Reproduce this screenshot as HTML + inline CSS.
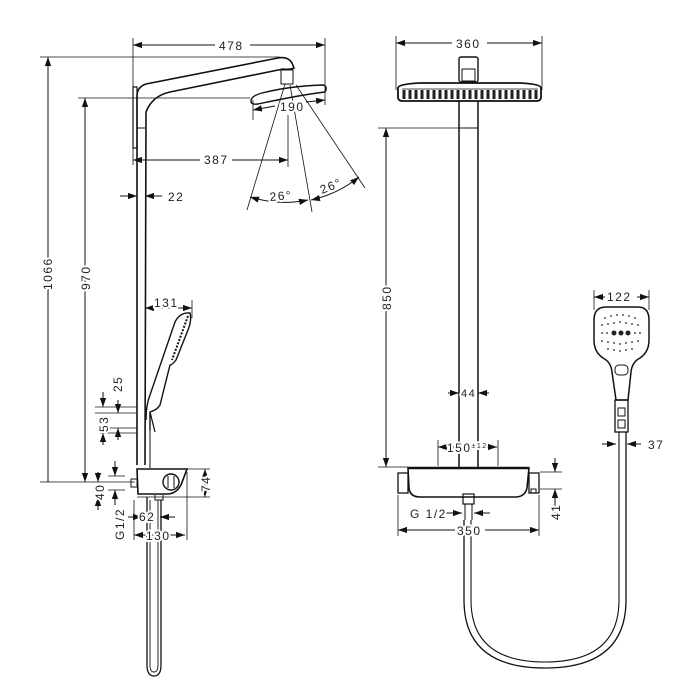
<!DOCTYPE html>
<html><head><style>body{margin:0;background:#fff}svg{display:block}text{font-family:"Liberation Sans",sans-serif;font-size:12px;fill:#222;letter-spacing:1.5px;stroke:#fff;stroke-width:4px;paint-order:stroke;stroke-linejoin:round}</style></head>
<body>
<svg width="700" height="700" viewBox="0 0 700 700" xmlns="http://www.w3.org/2000/svg">
<defs>
<marker id="a" viewBox="0 0 10 10" refX="10" refY="5" markerWidth="9" markerHeight="9" orient="auto-start-reverse"><path d="M0,1.5L10,5L0,8.5Z" fill="#111"/></marker>
</defs>
<g fill="none" stroke="#111" stroke-width="1">
<line x1="40" y1="57" x2="280" y2="57" stroke-width="0.8"/>
<line x1="78" y1="98" x2="250" y2="98" stroke-width="0.8"/>
<line x1="133" y1="38" x2="133" y2="165" stroke-width="0.8"/>
<line x1="325" y1="38" x2="325" y2="105" stroke-width="0.8"/>
<line x1="288" y1="115" x2="288" y2="167" stroke-width="0.8"/>
<line x1="40" y1="482" x2="135" y2="482" stroke-width="0.8"/>
<line x1="133" y1="45" x2="215" y2="45" marker-start="url(#a)"/>
<line x1="250" y1="45" x2="325" y2="45" marker-end="url(#a)"/>
<line x1="48" y1="57" x2="48" y2="482" marker-start="url(#a)"/>
<line x1="85" y1="98" x2="85" y2="482" marker-start="url(#a)" marker-end="url(#a)"/>
<line x1="133" y1="160" x2="200" y2="160" marker-start="url(#a)"/>
<line x1="232" y1="160" x2="288" y2="160" marker-end="url(#a)"/>
<line x1="120" y1="196" x2="137" y2="196" marker-end="url(#a)"/>
<line x1="162" y1="196" x2="145" y2="196" marker-end="url(#a)"/>
<line x1="253" y1="110" x2="275" y2="106" marker-start="url(#a)"/>
<line x1="306" y1="102" x2="325" y2="100" marker-end="url(#a)"/>
<line x1="253" y1="100" x2="253" y2="120" stroke-width="0.8"/>
<line x1="285" y1="84" x2="247" y2="210" stroke-width="0.8"/>
<line x1="290" y1="85" x2="312" y2="212" stroke-width="0.8"/>
<line x1="296" y1="85" x2="365" y2="188" stroke-width="0.8"/>
<path d="M250,197 Q280,206 308,200" marker-start="url(#a)" marker-end="url(#a)"/>
<path d="M311,200 Q338,194 359,177" marker-start="url(#a)" marker-end="url(#a)"/>
<path d="M137,465 L137,96 Q137,87 146,84 L278,58 Q288,56 292,63 L294,68 Q290,70 283,69 L170,92 Q152,96 146,112 L145,465" stroke-width="1.6"/>
<line x1="137" y1="128" x2="145" y2="128"/>
<rect x="133" y="87" width="4" height="61" stroke-width="1.2"/>
<rect x="281" y="70" width="12" height="14"/>
<path d="M251,101 Q251,96 262,93 Q290,86 322,85 Q327,85 326,90 L325,92 Q300,95 258,104 Q251,105 251,101Z" stroke-width="1.4"/>
<path d="M146,420 Q146,405 150,395 L175,322 Q180,312 190,313 Q192,320 188,330 L176,360 Q172,365 170,365 L160,405 Q157,410 150,412 L150,430" stroke-width="1.4"/>
<path d="M188,316 L172,360" stroke-dasharray="2,1.5" stroke-width="2"/>
<line x1="150" y1="412" x2="155" y2="432" stroke-width="1.2"/>
<line x1="145" y1="308" x2="192" y2="308" marker-start="url(#a)" marker-end="url(#a)"/>
<line x1="192" y1="300" x2="192" y2="318" stroke-width="0.8"/>
<line x1="95" y1="407" x2="137" y2="407" stroke-width="0.8"/>
<line x1="95" y1="413" x2="137" y2="413" stroke-width="0.8"/>
<line x1="100" y1="428" x2="137" y2="428" stroke-width="0.8"/>
<line x1="100" y1="433" x2="137" y2="433" stroke-width="0.8"/>
<line x1="103" y1="392" x2="103" y2="407" marker-end="url(#a)"/>
<line x1="118" y1="400" x2="118" y2="413" marker-end="url(#a)"/>
<line x1="103" y1="445" x2="103" y2="433" marker-end="url(#a)"/>
<line x1="118" y1="440" x2="118" y2="428" marker-end="url(#a)"/>
<path d="M137,469 L187,469 L181,485 Q176,494 167,494 L148,494 L138,494 L137,469Z" stroke-width="1.6"/>
<circle cx="171" cy="482" r="8" stroke-width="1.4"/>
<line x1="168" y1="476" x2="168" y2="488"/><line x1="174" y1="476" x2="174" y2="488"/>
<rect x="131" y="479" width="6" height="8"/>
<path d="M155,495 L155,500 L163,500 L163,495"/>
<line x1="187" y1="469" x2="210" y2="469" stroke-width="0.8"/>
<line x1="137" y1="497" x2="210" y2="497" stroke-width="0.8"/>
<line x1="205" y1="469" x2="205" y2="497" marker-start="url(#a)" marker-end="url(#a)"/>
<line x1="98" y1="472" x2="98" y2="482" marker-end="url(#a)"/>
<line x1="98" y1="510" x2="98" y2="497" marker-end="url(#a)"/>
<line x1="115" y1="461" x2="115" y2="476" marker-end="url(#a)"/>
<line x1="115" y1="505" x2="115" y2="490" marker-end="url(#a)"/>
<line x1="108" y1="476" x2="125" y2="476" stroke-width="0.8"/>
<line x1="108" y1="490" x2="125" y2="490" stroke-width="0.8"/>
<line x1="128" y1="517" x2="142" y2="517" marker-end="url(#a)"/>
<line x1="175" y1="517" x2="160" y2="517" marker-end="url(#a)"/>
<line x1="134" y1="535" x2="185" y2="535" marker-start="url(#a)" marker-end="url(#a)"/>
<line x1="134" y1="500" x2="134" y2="540" stroke-width="0.8"/>
<line x1="187" y1="472" x2="187" y2="540" stroke-width="0.8"/>
<path d="M147,497 L147,665 Q147,676 154,676 Q161,676 161,665 L161,500" stroke-width="1.3"/>
<path d="M150,500 L150,665 Q150,672 154,672 Q158,672 158,665 L158,500" stroke-width="0.9"/>
<line x1="145" y1="432" x2="145" y2="465" stroke-width="0.8"/>
<line x1="150" y1="430" x2="150" y2="468"/>

<line x1="396" y1="36" x2="396" y2="90" stroke-width="0.8"/>
<line x1="542" y1="36" x2="542" y2="90" stroke-width="0.8"/>
<line x1="396" y1="43" x2="452" y2="43" marker-start="url(#a)"/>
<line x1="487" y1="43" x2="542" y2="43" marker-end="url(#a)"/>
<rect x="459" y="57" width="19" height="25" rx="2" stroke-width="1.4"/>
<rect x="462" y="69" width="13" height="12"/>
<path d="M398,88 Q398,84 420,83 L520,83 Q541,84 541,88 L541,97 Q541,101 536,101 L403,101 Q398,101 398,97Z" stroke-width="1.8"/>
<path d="M402,89 L538,89" stroke-width="0.8"/>
<g stroke-width="3" stroke="#222">
<path d="M404,90v9M410,90v9M416,90v9M422,90v9M428,90v9M434,90v9M440,90v9M446,90v9M452,90v9M458,90v9M464,90v9M470,90v9M476,90v9M482,90v9M488,90v9M494,90v9M500,90v9M506,90v9M512,90v9M518,90v9M524,90v9M530,90v9M536,90v9"/>
</g>
<path d="M459,101 L459,467 M478,101 L478,467" stroke-width="1.5"/>
<line x1="459" y1="128" x2="478" y2="128"/>
<line x1="378" y1="128" x2="459" y2="128" stroke-width="0.8"/>
<line x1="386" y1="128" x2="386" y2="467" marker-start="url(#a)" marker-end="url(#a)"/>
<line x1="378" y1="467" x2="408" y2="467" stroke-width="0.8"/>
<line x1="448" y1="393" x2="459" y2="393" marker-end="url(#a)"/>
<line x1="489" y1="393" x2="478" y2="393" marker-end="url(#a)"/>
<line x1="438" y1="447" x2="497" y2="447" marker-start="url(#a)" marker-end="url(#a)"/>
<line x1="438" y1="440" x2="438" y2="466" stroke-width="0.8"/>
<line x1="498" y1="440" x2="498" y2="466" stroke-width="0.8"/>
<path d="M408,468 L529,468 L527,488 Q525,497 515,497 L420,497 Q410,497 409,488Z" stroke-width="1.6"/>
<line x1="408" y1="468" x2="529" y2="468" stroke-width="2.5"/>
<rect x="398" y="473" width="10" height="20" stroke-width="1.3"/>
<rect x="529" y="473" width="10" height="20" stroke-width="1.3"/>
<rect x="531" y="489" width="5" height="4"/>
<rect x="463" y="494" width="11" height="10" stroke-width="1.2"/>
<line x1="465" y1="504" x2="465" y2="520"/><line x1="472" y1="504" x2="472" y2="520"/>
<line x1="442" y1="513" x2="462" y2="513" marker-end="url(#a)"/>
<line x1="490" y1="513" x2="474" y2="513" marker-end="url(#a)"/>
<line x1="398" y1="495" x2="398" y2="536" stroke-width="0.8"/>
<line x1="539" y1="495" x2="539" y2="536" stroke-width="0.8"/>
<line x1="398" y1="530" x2="455" y2="530" marker-start="url(#a)"/>
<line x1="485" y1="530" x2="539" y2="530" marker-end="url(#a)"/>
<line x1="540" y1="472" x2="562" y2="472" stroke-width="0.8"/>
<line x1="540" y1="489" x2="562" y2="489" stroke-width="0.8"/>
<line x1="555" y1="458" x2="555" y2="472" marker-end="url(#a)"/>
<line x1="555" y1="520" x2="555" y2="489" marker-end="url(#a)"/>
<path d="M464,520 L464,600 Q464,668 545,668 Q626,668 626,600 L626,432" stroke-width="1.3"/>
<path d="M471,520 L471,600 Q471,662 545,662 Q619,662 619,600 L619,432" stroke-width="1.1"/>
<path d="M606,307 L638,307 Q649,307 649,320 L649,340 Q649,352 640,358 Q632,362 631,372 L628,400 L616,400 L612,372 Q611,362 603,358 Q594,352 594,340 L594,320 Q594,307 606,307Z" stroke-width="1.5"/>
<rect x="615" y="365" width="13" height="10" rx="4"/>
<rect x="615" y="400" width="13" height="32" stroke-width="1.3"/>
<rect x="618" y="408" width="7" height="8"/><rect x="618" y="420" width="7" height="8"/>
<line x1="594" y1="290" x2="594" y2="310" stroke-width="0.8"/>
<line x1="649" y1="290" x2="649" y2="310" stroke-width="0.8"/>
<line x1="594" y1="297" x2="605" y2="297" marker-start="url(#a)"/>
<line x1="637" y1="297" x2="649" y2="297" marker-end="url(#a)"/>
<line x1="602" y1="444" x2="616" y2="444" marker-end="url(#a)"/>
<line x1="641" y1="444" x2="627" y2="444" marker-end="url(#a)"/>
</g>
<g fill="#222">
<circle cx="614" cy="333" r="2.5"/><circle cx="621" cy="333" r="2.5"/><circle cx="628" cy="333" r="2.5"/>
<g fill="#555">
<circle cx="605" cy="318" r="1"/><circle cx="611" cy="316" r="1"/><circle cx="617" cy="315" r="1"/><circle cx="623" cy="315" r="1"/><circle cx="629" cy="316" r="1"/><circle cx="635" cy="318" r="1"/>
<circle cx="602" cy="325" r="1"/><circle cx="608" cy="324" r="1"/><circle cx="614" cy="323" r="1"/><circle cx="620" cy="322" r="1"/><circle cx="626" cy="323" r="1"/><circle cx="632" cy="324" r="1"/><circle cx="638" cy="325" r="1"/>
<circle cx="602" cy="333" r="1"/><circle cx="607" cy="333" r="1"/><circle cx="635" cy="333" r="1"/><circle cx="640" cy="333" r="1"/>
<circle cx="602" cy="341" r="1"/><circle cx="608" cy="342" r="1"/><circle cx="614" cy="343" r="1"/><circle cx="620" cy="344" r="1"/><circle cx="626" cy="343" r="1"/><circle cx="632" cy="342" r="1"/><circle cx="638" cy="341" r="1"/>
<circle cx="608" cy="349" r="1"/><circle cx="614" cy="350" r="1"/><circle cx="620" cy="351" r="1"/><circle cx="626" cy="350" r="1"/><circle cx="632" cy="349" r="1"/>
</g>
</g>
<text x="219" y="50">478</text>
<text x="280" y="111">190</text>
<text x="204" y="164">387</text>
<text x="168" y="201">22</text>
<text x="270" y="201" transform="rotate(-5 270 201)">26°</text>
<text x="322" y="194" transform="rotate(-22 322 194)">26°</text>
<text x="154" y="307">131</text>
<text transform="translate(52 290) rotate(-90)">1066</text>
<text transform="translate(90 290) rotate(-90)">970</text>
<text transform="translate(122 392) rotate(-90)">25</text>
<text transform="translate(108 432) rotate(-90)">53</text>
<text transform="translate(104 500) rotate(-90)">40</text>
<text transform="translate(124 540) rotate(-90)">G1/2</text>
<text transform="translate(210 492) rotate(-90)">74</text>
<text x="139" y="521">62</text>
<text x="146" y="540">130</text>
<text x="456" y="48">360</text>
<text transform="translate(391 310) rotate(-90)">850</text>
<text x="461" y="397" style="font-size:11px">44</text>
<text x="447" y="452">150<tspan style="font-size:7px" dy="-4">±12</tspan></text>
<text x="410" y="518">G 1/2</text>
<text x="457" y="535">350</text>
<text transform="translate(560 520) rotate(-90)">41</text>
<text x="607" y="301">122</text>
<text x="648" y="449">37</text>
</svg>
</body></html>
